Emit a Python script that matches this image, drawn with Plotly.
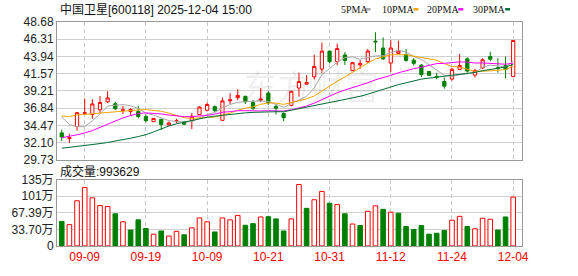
import plotly.graph_objects as go

# ---------------- data ----------------
dates = ["09-04","09-05","09-08","09-09","09-10","09-11","09-12","09-15","09-16","09-17",
         "09-18","09-19","09-22","09-23","09-24","09-25","09-26","09-29","09-30",
         "10-09","10-10","10-13","10-14","10-15","10-16","10-17","10-20","10-21","10-22",
         "10-23","10-24","10-27","10-28","10-29","10-30","10-31",
         "11-03","11-04","11-05","11-06","11-07","11-10","11-11","11-12","11-13","11-14",
         "11-17","11-18","11-19","11-20","11-21","11-24","11-25","11-26","11-27","11-28",
         "12-01","12-02","12-03","12-04"]

open_ = [33.45,32.66,34.33,36.15,35.96,36.62,37.72,37.46,36.55,36.40,
         36.40,35.70,34.99,35.30,34.55,35.00,34.95,35.17,35.96,36.55,
         37.05,35.17,37.85,38.29,38.47,37.63,37.95,38.91,37.06,36.10,
         37.23,39.61,40.14,41.15,42.21,44.68,43.23,44.15,41.99,42.78,
         43.23,46.05,45.10,43.04,44.36,44.19,43.44,42.75,41.88,41.20,
         40.50,40.85,42.17,43.62,41.38,42.38,43.93,42.40,42.70,41.19]
high = [33.89,33.32,36.30,38.16,38.08,38.51,39.17,37.72,37.15,36.84,
        37.19,35.96,35.50,35.40,35.00,35.40,35.05,36.17,37.10,37.60,
        37.20,38.30,38.90,39.44,38.55,38.00,39.60,39.20,37.42,36.27,
        39.20,41.72,41.38,44.20,45.87,44.70,45.73,44.55,43.20,43.44,
        44.98,47.27,46.57,46.21,46.13,44.98,43.70,42.90,41.95,41.70,
        41.06,42.38,44.28,43.83,42.25,43.70,44.60,43.70,43.93,46.13]
low = [32.31,32.08,33.76,35.95,35.38,36.17,37.55,36.57,36.04,35.78,
       35.44,34.91,34.95,33.85,34.40,34.80,34.55,33.98,35.90,36.40,
       36.30,35.17,37.42,37.95,37.40,36.60,37.70,37.30,35.96,35.08,
       37.10,38.42,40.10,40.80,41.68,43.00,42.78,42.78,41.95,42.25,
       43.00,44.55,43.49,41.81,44.30,43.23,42.70,41.10,41.29,40.80,
       39.53,40.63,42.08,41.72,41.06,42.20,43.30,41.72,40.93,41.10]
close = [32.87,32.79,36.23,36.20,37.42,37.63,38.25,36.76,36.60,36.66,
         35.70,35.12,35.44,34.59,34.82,35.10,34.64,35.74,37.00,37.35,
         36.50,37.85,38.00,38.60,37.72,36.84,38.08,37.59,36.84,35.53,
         39.17,40.50,40.36,42.57,44.68,43.23,45.03,43.40,43.09,43.00,
         44.68,45.95,43.60,45.11,44.68,43.40,43.00,41.45,41.35,41.10,
         39.87,42.17,42.70,41.94,42.00,43.49,43.57,42.30,42.17,46.13]

ma5 = [35.65,34.60,34.30,34.30,35.10,36.05,37.15,37.25,37.33,37.18,
       36.79,36.17,35.90,35.50,35.13,35.01,34.92,34.98,35.46,35.97,
       36.25,36.89,37.34,37.66,37.73,37.80,37.85,37.77,37.41,36.98,
       37.44,37.93,38.48,39.63,41.46,42.27,43.17,43.78,43.89,43.55,
       43.84,44.02,44.06,44.47,44.80,44.55,43.96,43.53,42.78,42.06,
       41.35,41.19,41.44,41.56,41.74,42.46,42.74,42.66,42.50,43.33]
ma10 = [35.74,35.70,35.91,36.04,36.07,36.17,36.27,36.36,36.44,36.50,
        36.60,36.65,36.58,36.42,36.16,35.90,35.54,35.44,35.48,35.55,
        35.63,35.90,36.16,36.56,36.85,37.02,37.37,37.55,37.54,37.36,
        37.62,37.89,38.12,38.52,39.22,39.86,40.55,41.13,41.76,42.50,
        43.05,43.60,43.92,44.18,44.18,44.19,43.99,43.80,43.62,43.43,
        42.95,42.57,42.48,42.17,41.90,41.91,41.96,42.05,42.13,42.63]
ma20 = [32.79,32.97,33.19,33.45,33.76,34.20,34.64,35.08,35.51,35.83,
        36.10,36.20,36.15,36.05,35.90,35.78,35.68,35.68,35.75,35.85,
        36.03,36.28,36.37,36.49,36.50,36.46,36.46,36.50,36.51,36.45,
        36.63,36.90,37.14,37.54,38.03,38.44,38.96,39.34,39.65,39.93,
        40.34,40.74,41.02,41.35,41.70,42.02,42.27,42.46,42.69,42.97,
        43.00,43.09,43.20,43.17,43.04,43.05,42.98,42.92,42.88,43.03]
ma30 = [31.34,31.45,31.57,31.70,31.83,31.98,32.13,32.30,32.50,32.72,
        32.95,33.20,33.58,34.00,34.40,34.70,34.95,35.15,35.40,35.60,
        35.75,35.88,36.00,36.12,36.20,36.27,36.32,36.36,36.36,36.35,
        36.56,36.82,36.95,37.17,37.41,37.59,37.82,38.04,38.26,38.47,
        38.77,39.13,39.40,39.75,40.08,40.36,40.64,40.83,40.97,41.10,
        41.21,41.35,41.51,41.62,41.76,41.99,42.17,42.32,42.50,42.86]

# volume in 万 (10k lots)
volume = [49.9,43.4,92.0,119.0,97.8,82.3,80.3,65.4,49.2,32.4,
          53.1,35.6,24.0,30.5,20.1,29.8,22.7,36.9,57.0,49.2,
          28.5,57.0,53.1,62.2,42.1,45.4,59.0,59.6,55.1,30.5,
          55.1,125.0,76.5,94.0,110.8,86.8,84.2,65.4,44.7,41.5,
          70.6,81.6,74.5,68.7,66.7,39.5,33.7,41.5,24.0,25.9,
          31.7,52.5,60.3,39.5,35.0,56.4,54.4,32.4,59.0,99.3629]
vol_up = [0,1,1,1,1,1,1,0,1,0, 0,0,1,0,1,1,0,1,1,1,
          0,1,1,1,0,0,1,0,0,0, 1,1,0,1,1,0,1,0,1,0,
          1,1,0,1,0,0,0,0,0,0, 0,1,1,0,1,1,1,0,0,1]

tick_dates = ["09-09","09-19","10-09","10-21","10-31","11-12","11-24","12-04"]
price_ticks = [29.73, 32.10, 34.47, 36.84, 39.21, 41.57, 43.94, 46.31, 48.68]
price_ticktext = ["29.73","32.10","34.47","36.84","39.21","41.57","43.94","46.31","48.68"]
vol_ticks = [0, 33.70, 67.39, 101.08, 134.78]
vol_ticktext = ["0", "33.70万", "67.39万", "101万", "135万"]

ma_names = ["5PMA", "10PMA", "20PMA", "30PMA"]
ma_colors = ["#a8a8a8", "#f5a300", "#ff00ff", "#006e35"]

stock_title = "中国卫星[600118] 2025-12-04\u00a015:00"

# ---------------- layout helpers ----------------
W, H = 578, 276
ML, MR, MT, MB = 55, 56, 22, 21
PW, PH = W - ML - MR, H - MT - MB

def px(x):
    return (x - ML) / PW

def py(y):
    return (H - MB - y) / PH

RED = "#ff0000"
GREEN = "#008000"
FONT = "Liberation Sans, Noto Sans CJK SC, sans-serif"

x = list(range(len(dates)))
tick_idx = [dates.index(d) for d in tick_dates]

fig = go.Figure()

fig.add_trace(go.Candlestick(
    x=x, open=open_, high=high, low=low, close=close,
    increasing=dict(line=dict(color=RED, width=1), fillcolor="#ffffff"),
    decreasing=dict(line=dict(color=GREEN, width=1), fillcolor=GREEN),
    whiskerwidth=0, xaxis="x", yaxis="y", showlegend=False, hoverinfo="skip",
))

for name, col, vals in zip(ma_names, ma_colors, [ma5, ma10, ma20, ma30]):
    fig.add_trace(go.Scatter(x=x, y=vals, mode="lines", name=name,
                             line=dict(color=col, width=1),
                             xaxis="x", yaxis="y", showlegend=False, hoverinfo="skip"))

fig.add_trace(go.Bar(
    x=x, y=volume, width=0.6,
    marker=dict(color=["#ffffff" if u else GREEN for u in vol_up],
                line=dict(color=[RED if u else GREEN for u in vol_up], width=1)),
    xaxis="x2", yaxis="y2", showlegend=False, hoverinfo="skip",
))

xrange = [-0.62, 60.15]
common_x = dict(range=xrange, tickmode="array", tickvals=tick_idx, ticktext=tick_dates,
                showgrid=True, gridcolor="#c8c8c8", griddash="4px,3px", gridwidth=1,
                showline=True, mirror=True, linecolor="#999999", linewidth=1,
                ticks="", zeroline=False, fixedrange=True)

fig.update_layout(
    width=W, height=H,
    margin=dict(l=ML, r=MR, t=MT, b=MB, pad=0),
    paper_bgcolor="#ffffff", plot_bgcolor="#ffffff",
    boxgap=0.4,
    bargap=0.4,
    font=dict(family=FONT, size=12, color="#222222"),
    xaxis=dict(**common_x, domain=[0, 1], anchor="y", showticklabels=False,
               rangeslider=dict(visible=False)),
    xaxis2=dict(**common_x, domain=[0, 1], anchor="y2", showticklabels=True,
                tickfont=dict(color=RED, size=12, family=FONT)),
    yaxis=dict(domain=[py(165.5), 1], range=[price_ticks[0], price_ticks[-1]],
               tickmode="array", tickvals=price_ticks, ticktext=price_ticktext,
               showgrid=True, gridcolor="#d0d0d0", gridwidth=1,
               showline=True, mirror=True, linecolor="#999999", linewidth=1,
               ticks="", zeroline=False, tickfont=dict(size=12, color="#222222")),
    yaxis2=dict(domain=[0, py(186)], range=[vol_ticks[0], vol_ticks[-1]],
                tickmode="array", tickvals=vol_ticks, ticktext=vol_ticktext,
                showgrid=True, gridcolor="#d0d0d0", gridwidth=1,
                showline=True, mirror=True, linecolor="#999999", linewidth=1,
                ticks="", zeroline=False, tickfont=dict(size=12, color="#222222")),
    showlegend=False,
)

annotations = [
    dict(text=stock_title, x=px(56), y=py(9), xref="paper", yref="paper",
         xanchor="left", yanchor="middle", showarrow=False,
         font=dict(size=12, color="#111111", family=FONT)),
    dict(text="成交量:" + str(int(round(volume[-1] * 10000))), x=px(56), y=py(177),
         xref="paper", yref="paper", xanchor="left", yanchor="middle", showarrow=False,
         font=dict(size=12, color="#111111", family=FONT)),
    dict(text="东方财富", x=px(310), y=py(88), xref="paper", yref="paper",
         xanchor="center", yanchor="middle", showarrow=False,
         font=dict(size=34, color="rgba(0,0,0,0.07)", family="Noto Sans CJK SC")),
]
shapes = []
legend_text_x = [338, 379, 425, 471]
legend_dash_x = [365, 413, 458, 505]
for name, col, tx, dx in zip(ma_names, ma_colors, legend_text_x, legend_dash_x):
    annotations.append(dict(text=name, x=px(tx), y=py(8.5), xref="paper", yref="paper",
                            xanchor="left", yanchor="middle", showarrow=False,
                            font=dict(size=10, color="#111111",
                                      family="Liberation Serif, DejaVu Serif, serif")))
    shapes.append(dict(type="rect", xref="paper", yref="paper",
                       x0=px(dx), x1=px(dx + 5), y0=py(10), y1=py(7.5),
                       fillcolor=col, line=dict(width=0)))

fig.update_layout(annotations=annotations, shapes=shapes)

fig.write_html("out.html", include_plotlyjs=True, config={"displayModeBar": False})
